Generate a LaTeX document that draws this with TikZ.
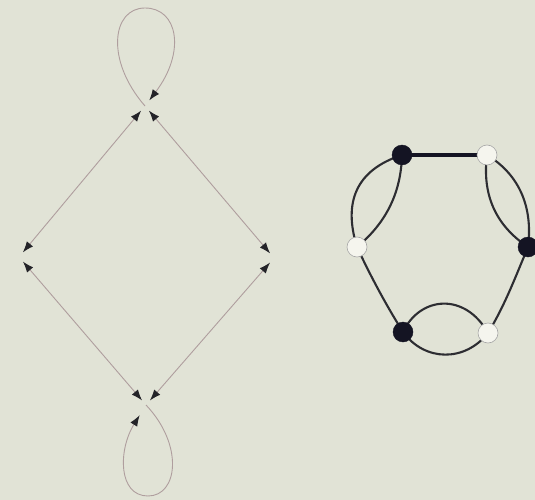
\documentclass[tikz,border=0pt]{standalone}
\usetikzlibrary{arrows.meta}
\definecolor{bg}{RGB}{225,227,214}
\definecolor{thin}{RGB}{175,158,158}
\definecolor{tip}{RGB}{35,35,40}
\definecolor{dk}{RGB}{45,45,50}
\definecolor{blk}{RGB}{20,20,35}
\definecolor{wht}{RGB}{245,245,238}
\tikzset{
  >={Latex[length=11pt,width=8pt,color=tip]},
  thinline/.style={draw=thin,line width=0.9pt},
  dblarrow/.style={thinline,<->,shorten <=6pt,shorten >=6pt},
  bnode/.style={circle,fill=blk,draw=blk,minimum size=20pt,inner sep=0pt},
  wnode/.style={circle,fill=wht,draw=gray!70,line width=0.6pt,minimum size=20pt,inner sep=0pt},
  thickedge/.style={draw=dk,line width=2.1pt}
}
\begin{document}
\begin{tikzpicture}[x=1pt,y=-1pt]
\useasboundingbox[fill=bg] (0,0) rectangle (535,500);
% left diagram
\coordinate (T) at (145,106);
\coordinate (L) at (19,257);
\coordinate (R) at (274,258);
\coordinate (B) at (146,405);
\draw[dblarrow] (T) -- (L);
\draw[dblarrow] (T) -- (R);
\draw[dblarrow] (B) -- (L);
\draw[dblarrow] (B) -- (R);
\draw[thinline,->,shorten >=7pt] (T) .. controls (105,60) and (112,8) .. (145,8) .. controls (178,8) and (186,52) .. (T);
\draw[thinline,->,shorten >=12pt] (B) .. controls (184,445) and (178,496) .. (148,496) .. controls (118,496) and (118,450) .. (B);
% right diagram
\coordinate (a) at (402,155);
\coordinate (b) at (487,155);
\coordinate (c) at (528,247);
\coordinate (d) at (488,333);
\coordinate (e) at (403,332);
\coordinate (f) at (357,247);
\draw[draw=blk,line width=3.5pt] (a) -- (b);
\draw[thickedge] (f) .. controls (343,202) and (356,170) .. (a);
\draw[thickedge] (f) .. controls (386,223) and (401,193) .. (a);
\draw[thickedge] (b) .. controls (520,175) and (533,208) .. (c);
\draw[thickedge] (b) .. controls (482,194) and (495,225) .. (c);
\draw[thickedge] (c) .. controls (515,278) and (505,305) .. (d);
\draw[thickedge] (e) .. controls (420,296) and (465,292) .. (d);
\draw[thickedge] (e) .. controls (425,362) and (465,362) .. (d);
\draw[thickedge] (f) .. controls (370,275) and (386,305) .. (e);
\node[bnode] (A) at (a) {};
\node[wnode] (Bw) at (b) {};
\node[bnode] (C) at (c) {};
\node[wnode] (D) at (d) {};
\node[bnode] (E) at (e) {};
\node[wnode] (F) at (f) {};
\end{tikzpicture}
\end{document}
